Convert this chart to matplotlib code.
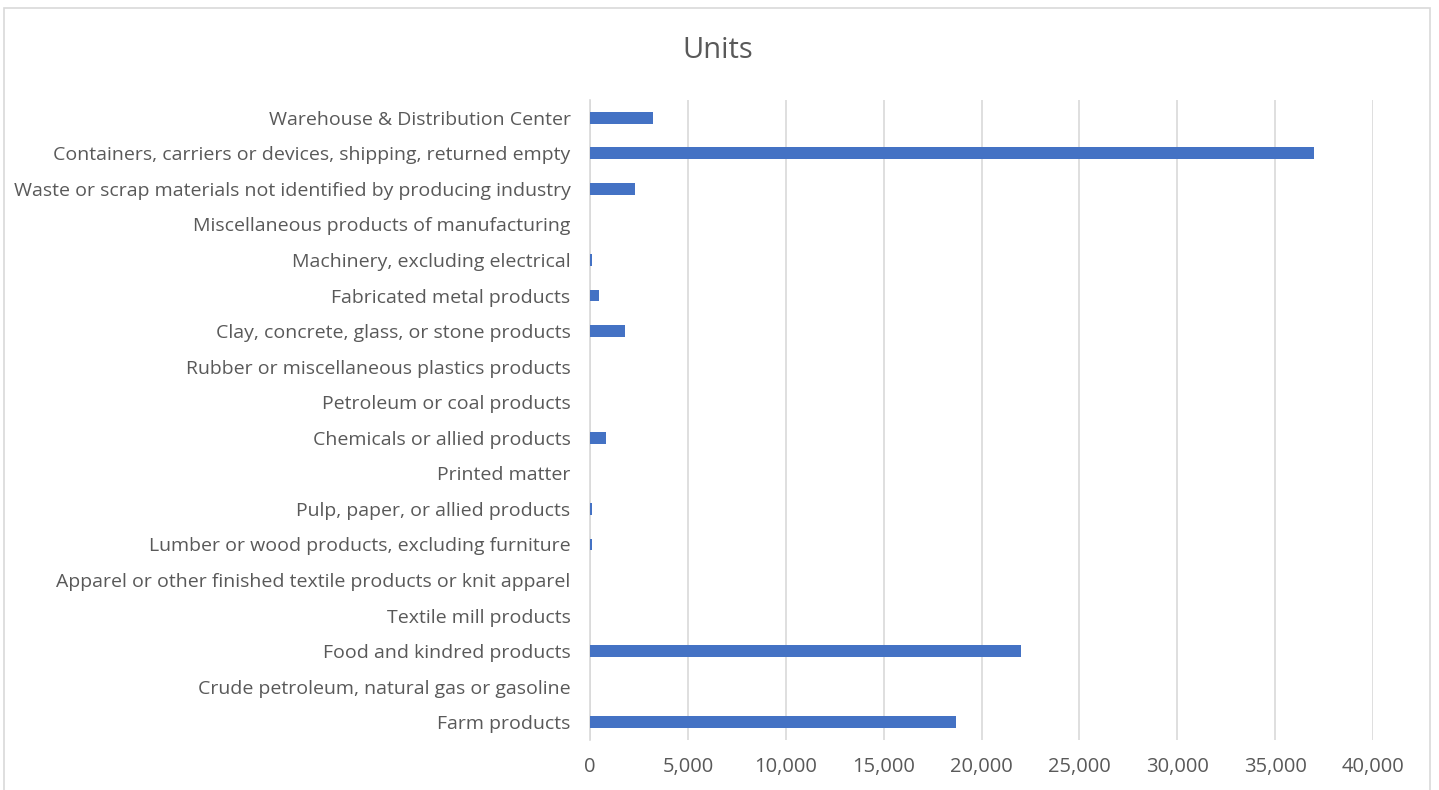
import matplotlib
matplotlib.use('Agg')
import matplotlib.pyplot as plt
from matplotlib.patches import Rectangle
from matplotlib.ticker import FuncFormatter

# Categories listed bottom to top
categories = [
    'Farm products',
    'Crude petroleum, natural gas or gasoline',
    'Food and kindred products',
    'Textile mill products',
    'Apparel or other finished textile products or knit apparel',
    'Lumber or wood products, excluding furniture',
    'Pulp, paper, or allied products',
    'Printed matter',
    'Chemicals or allied products',
    'Petroleum or coal products',
    'Rubber or miscellaneous plastics products',
    'Clay, concrete, glass, or stone products',
    'Fabricated metal products',
    'Machinery, excluding electrical',
    'Miscellaneous products of manufacturing',
    'Waste or scrap materials not identified by producing industry',
    'Containers, carriers or devices, shipping, returned empty',
    'Warehouse & Distribution Center',
]
units = [18700, 0, 22000, 0, 0, 120, 80, 0, 820, 0, 0, 1800, 480, 80, 0, 2300, 37000, 3200]
x_ticks = [0, 5000, 10000, 15000, 20000, 25000, 30000, 35000, 40000]

plt.rcParams['font.family'] = ['Open Sans', 'DejaVu Sans']

fig = plt.figure(figsize=(14.39, 7.9), dpi=100)
ax = fig.add_axes([590 / 1439, 1 - 740 / 790, (1373 - 590) / 1439, 640 / 790])

pos = list(range(len(categories)))
ax.barh(pos, units, height=0.33, color='#4472C4', zorder=3)

ax.set_xlim(0, 40000)
ax.set_ylim(-0.5, len(categories) - 0.5)
ax.set_xticks(x_ticks)
ax.xaxis.set_major_formatter(FuncFormatter(lambda v, p: f'{int(v):,}'))
ax.set_yticks(pos)
ax.set_yticklabels(categories)

ax.grid(axis='x', color='#d9d9d9', linewidth=1.2, zorder=0)
for s in ['top', 'right', 'bottom']:
    ax.spines[s].set_visible(False)
ax.spines['left'].set_color('#d9d9d9')
ax.spines['left'].set_linewidth(1.2)
ax.tick_params(axis='both', length=0, colors='#595959')
ax.tick_params(axis='y', pad=14, labelsize=14)
ax.tick_params(axis='x', pad=12, labelsize=14.5)

fig.text(718 / 1439, 1 - 50 / 790, 'Units', ha='center', va='center',
         fontsize=21, color='#595959')

# chart area border
fig.patches.append(Rectangle((4 / 1439, -0.01), (1430 - 4) / 1439, 1 - 8 / 790 + 0.01,
                             transform=fig.transFigure, fill=False,
                             edgecolor='#d9d9d9', linewidth=1.2))

fig.savefig('out.png', dpi=100)
